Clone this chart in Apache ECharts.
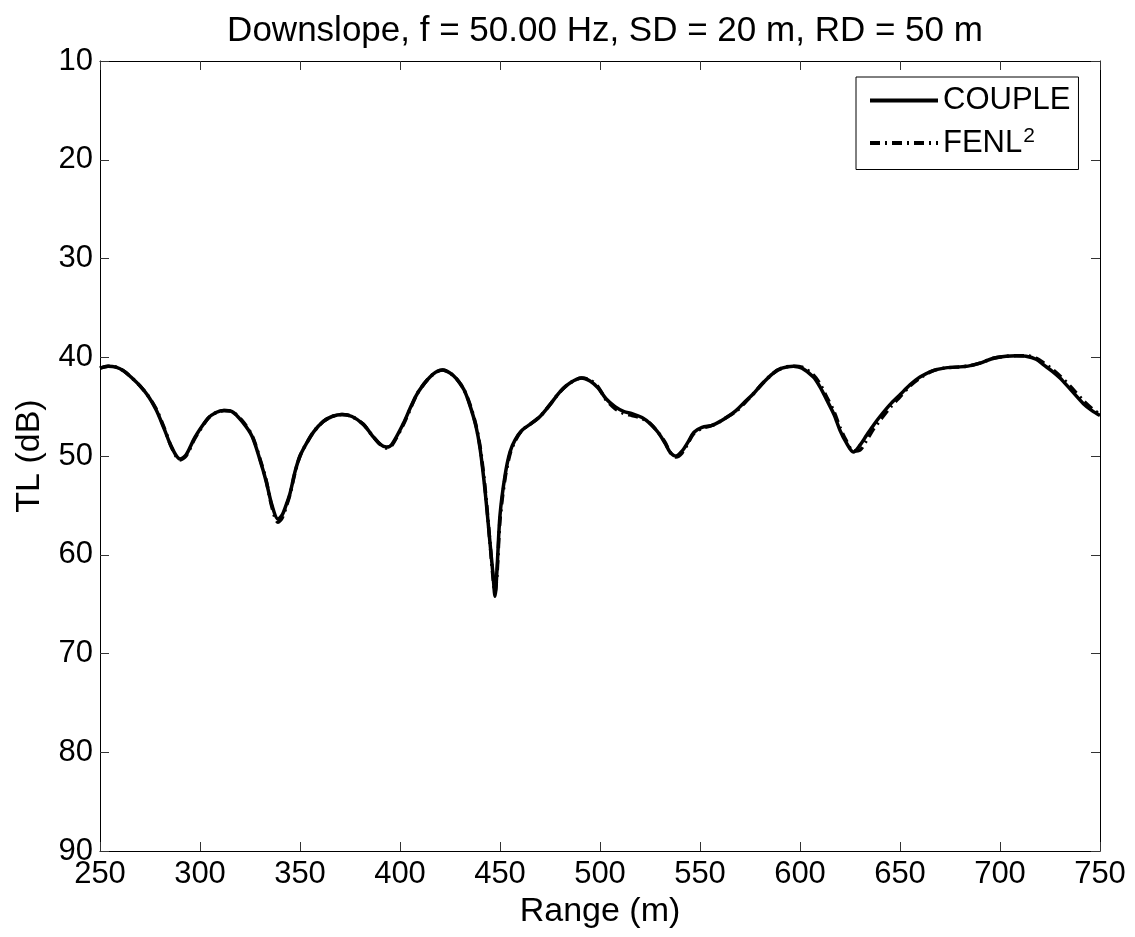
<!DOCTYPE html>
<html>
<head>
<meta charset="utf-8">
<script src="https://cdn.jsdelivr.net/npm/echarts@6/dist/echarts.min.js"></script>
<style>html,body{margin:0;padding:0;background:#fff}#c{width:1135px;height:937px}</style>
</head>
<body>
<div id="c"></div>
<script>
// Range samples (m)
const rangeM = [250,254,258,262,266,270,274,278,282,286,290,293,297.5,304,308,312,316,321,326,330,333,336,339,341,343,345,347.5,350,353.3,357,361.7,366,371,376,381.7,386,390,393.3,396,401.7,405,408.3,412,415,418,421.3,425,428.3,432,435,438,440,442,443.5,445,446.5,447.5,448.5,450,452.5,455,457.5,461,465,470,475,480,485,490.8,495,499,503,507.5,512,516,521,525,529,532.5,535,538,541,544,547,551,556,560,564,568,572,576.7,581,586.7,591,596.7,601,606.7,610,613.3,617,620,623,626.7,630,633.3,637,640,645,650,655,660,666,672,678,684,690,696.7,703,708.3,713,718,722,726,730,735,741.7,746,750];
// TL (dB), COUPLE
const tlCouple = [41.1,40.9,41.0,41.4,42.1,42.9,43.9,45.3,47.2,49.2,50.3,49.9,48.1,46.2,45.6,45.4,45.5,46.5,48.0,50.4,52.5,55.0,56.4,56.0,55.0,53.8,51.6,50.0,48.7,47.5,46.5,46.0,45.8,46.0,46.8,47.9,48.8,49.1,48.8,46.7,45.2,43.8,42.7,42.0,41.5,41.3,41.6,42.2,43.3,44.9,47.0,49.2,52.5,55.5,58.8,62.0,64.2,61.5,56.0,52.0,49.6,48.4,47.4,46.8,46.0,44.8,43.5,42.6,42.1,42.4,43.1,44.2,45.0,45.5,45.7,46.1,46.7,47.6,48.7,49.6,50.0,49.5,48.6,47.6,47.1,46.9,46.5,46.0,45.4,44.6,43.7,42.7,41.6,41.1,40.9,41.1,42.0,43.0,44.3,45.8,47.4,48.6,49.6,48.9,47.9,46.8,46.0,44.8,43.8,42.8,42.0,41.4,41.1,41.0,40.9,40.6,40.1,39.9,39.85,39.9,40.2,40.8,41.4,42.1,43.2,44.7,45.4,45.9];
// TL (dB), FENL^2
const tlFenl = [41.1,40.9,41.0,41.4,42.1,42.9,43.9,45.2,47.1,49.2,50.4,50.0,48.2,46.2,45.6,45.4,45.5,46.4,47.9,50.3,52.4,55.2,56.7,56.3,55.2,53.9,51.7,50.0,48.7,47.5,46.5,46.0,45.8,46.0,46.8,47.9,48.8,49.2,48.9,46.8,45.3,43.8,42.7,42.0,41.5,41.3,41.6,42.2,43.3,44.8,46.9,49.0,52.2,55.3,58.8,62.3,63.8,62.0,56.5,52.3,49.8,48.5,47.4,46.8,46.0,44.8,43.5,42.6,42.1,42.3,43.0,44.3,45.2,45.7,45.9,46.2,46.7,47.6,48.6,49.6,50.1,49.7,48.7,47.7,47.2,46.9,46.5,46.0,45.5,44.7,43.7,42.7,41.6,41.1,40.9,41.0,41.8,42.7,44.0,45.5,47.1,48.4,49.5,49.4,48.4,47.2,46.4,45.1,44.0,42.9,42.1,41.4,41.1,41.0,40.9,40.6,40.1,39.9,39.85,39.85,40.1,40.6,41.2,41.9,42.9,44.4,45.2,45.8];
const xTicks = [250,300,350,400,450,500,550,600,650,700,750];
const yTicks = [10,20,30,40,50,60,70,80,90];
const titleText = 'Downslope, f = 50.00 Hz, SD = 20 m, RD = 50 m';
const xName = 'Range (m)';
const yName = 'TL (dB)';

const FONT = '"Liberation Sans", Arial, Helvetica, sans-serif';
const chart = echarts.init(document.getElementById('c'), null, {renderer: 'canvas'});
const pair = (arr) => rangeM.map((r, i) => [r, arr[i]]);
const tickStyle = {show: true, inside: true, length: 9, lineStyle: {color: '#333', width: 1}};
const lineAx = {show: true, lineStyle: {color: '#000', width: 1}};
chart.setOption({
  animation: false,
  backgroundColor: '#fff',
  title: {
    text: titleText, left: 600, textAlign: 'center', top: 9,
    textStyle: {fontFamily: FONT, fontSize: 35, fontWeight: 'normal', color: '#000'}
  },
  grid: {left: 100, right: 35, top: 61, bottom: 86, containLabel: false},
  legend: {
    orient: 'vertical', left: 856, top: 77,
    padding: [8, 8, 11, 12], itemGap: 10, itemWidth: 68, itemHeight: 14,
    borderColor: '#000', borderWidth: 1, backgroundColor: '#fff',
    itemStyle: {opacity: 0},
    lineStyle: {width: 4},
    data: ['COUPLE', 'FENL2'],
    textStyle: {fontFamily: FONT, fontSize: 31, color: '#000',
      rich: {a: {fontFamily: FONT, fontSize: 31, color: '#000'},
             s: {fontFamily: FONT, fontSize: 21, color: '#000', padding: [0, 0, 13, 1]}}},
    formatter: (n) => n === 'FENL2' ? '{a|FENL}{s|2}' : n
  },
  xAxis: [{
    type: 'value', min: 250, max: 750, interval: 50, position: 'bottom',
    name: xName, nameLocation: 'middle', nameGap: 40,
    nameTextStyle: {fontFamily: FONT, fontSize: 34, color: '#000'},
    axisLine: lineAx, axisTick: tickStyle, splitLine: {show: false},
    axisLabel: {fontFamily: FONT, fontSize: 31, color: '#000', margin: 8}
  }, {
    type: 'value', min: 250, max: 750, interval: 50, position: 'top',
    axisLine: lineAx, axisTick: tickStyle, splitLine: {show: false}, axisLabel: {show: false}
  }],
  yAxis: [{
    type: 'value', min: 10, max: 90, interval: 10, inverse: true, position: 'left',
    name: yName, nameLocation: 'middle', nameGap: 53, nameRotate: 90,
    nameTextStyle: {fontFamily: FONT, fontSize: 34, color: '#000'},
    axisLine: lineAx, axisTick: tickStyle, splitLine: {show: false},
    axisLabel: {fontFamily: FONT, fontSize: 31, color: '#000', margin: 7}
  }, {
    type: 'value', min: 10, max: 90, interval: 10, inverse: true, position: 'right',
    axisLine: lineAx, axisTick: tickStyle, splitLine: {show: false}, axisLabel: {show: false}
  }],
  series: [{
    name: 'COUPLE', type: 'line', data: pair(tlCouple), smooth: 0.3, showSymbol: false, symbol: 'none',
    lineStyle: {color: '#000', width: 3.5, type: 'solid'}, itemStyle: {color: '#000'}, z: 2
  }, {
    name: 'FENL2', type: 'line', data: pair(tlFenl), smooth: 0.3, showSymbol: false, symbol: 'none',
    lineStyle: {color: '#000', width: 3.5, type: [10, 5, 2, 5]}, itemStyle: {color: '#000'}, z: 3
  }]
});
</script>
</body>
</html>
